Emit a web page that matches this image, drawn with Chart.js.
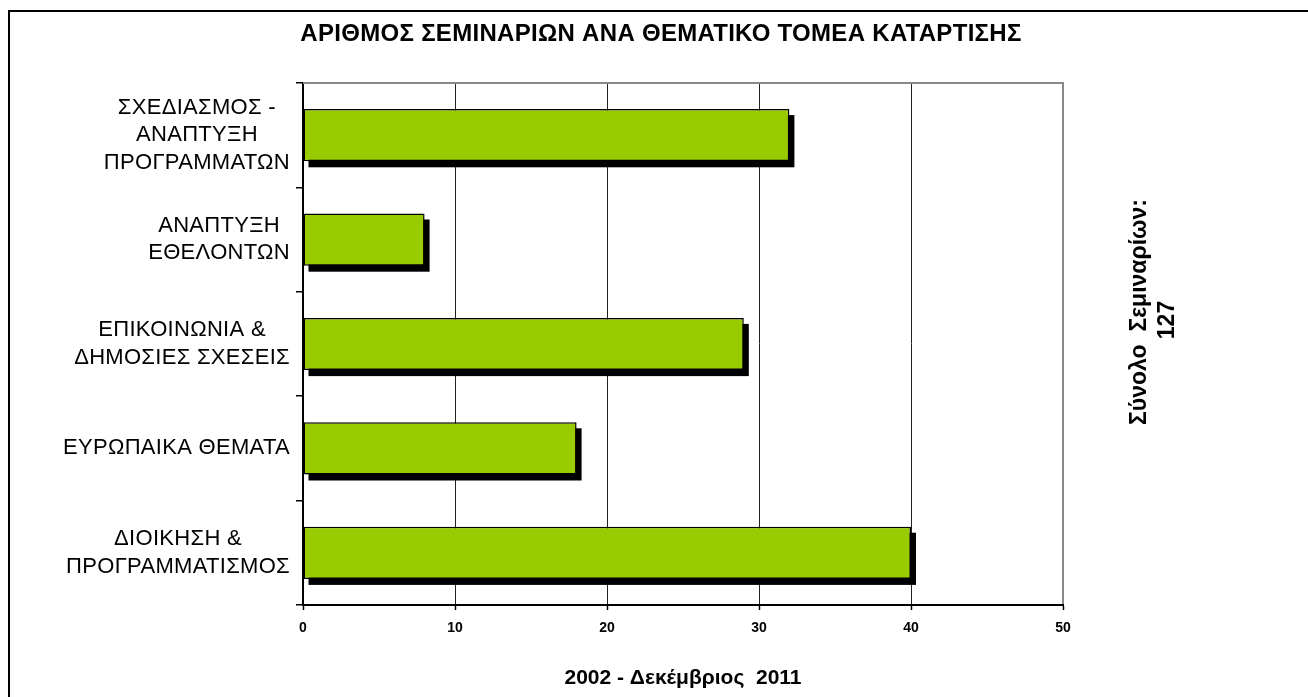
<!DOCTYPE html>
<html><head><meta charset="utf-8">
<script src="https://cdn.jsdelivr.net/npm/chart.js@4"></script>
<style>html,body{margin:0;padding:0;background:#fff}#wrap{width:1308px;height:697px;position:relative}</style>
</head><body><div id="wrap"><canvas id="c" width="1308" height="697"></canvas></div>
<script>
const categories = [
  ["ΣΧΕΔΙΑΣΜΟΣ -", "ΑΝΑΠΤΥΞΗ", "ΠΡΟΓΡΑΜΜΑΤΩΝ"],
  ["ΑΝΑΠΤΥΞΗ", "ΕΘΕΛΟΝΤΩΝ"],
  ["ΕΠΙΚΟΙΝΩΝΙΑ &", "ΔΗΜΟΣΙΕΣ ΣΧΕΣΕΙΣ"],
  ["ΕΥΡΩΠΑΙΚΑ ΘΕΜΑΤΑ"],
  ["ΔΙΟΙΚΗΣΗ &", "ΠΡΟΓΡΑΜΜΑΤΙΣΜΟΣ"]
];
const seminars = [32, 8, 29, 18, 40];
const xTickValues = [0, 10, 20, 30, 40, 50];
const titleText = "ΑΡΙΘΜΟΣ ΣΕΜΙΝΑΡΙΩΝ ΑΝΑ ΘΕΜΑΤΙΚΟ ΤΟΜΕΑ ΚΑΤΑΡΤΙΣΗΣ";
const xTitleText = "2002 - Δεκέμβριος  2011";
const sideText = ["Σύνολο  Σεμιναρίων:", "127"];

const FONT = '"Liberation Sans", Arial, sans-serif';

const decor = {
  id: 'decor',
  beforeDatasetsDraw(chart) {
    const ctx = chart.ctx;
    const meta = chart.getDatasetMeta(0);
    ctx.save();
    ctx.fillStyle = '#000';
    meta.data.forEach(el => {
      const p = el.getProps(['x', 'y', 'base', 'height'], true);
      const l = Math.min(p.base, p.x), r = Math.max(p.base, p.x);
      ctx.fillRect(l + 5, p.y - p.height / 2 + 6, r - l, p.height);
    });
    ctx.restore();
  },
  afterDraw(chart) {
    const ctx = chart.ctx;
    const a = chart.chartArea;
    const ys = chart.scales.y;
    ctx.save();
    // gray top/right plot border
    ctx.fillStyle = '#888';
    ctx.fillRect(a.left, a.top - 1, a.right - a.left + 1, 2);
    ctx.fillRect(a.right - 1, a.top - 1, 2, a.bottom - a.top);
    // outer frame
    ctx.fillStyle = '#000';
    ctx.fillRect(8, 10, 2, 697);
    ctx.fillRect(8, 10, 1308, 2);
    // title
    ctx.fillStyle = '#000';
    ctx.textAlign = 'center';
    ctx.textBaseline = 'middle';
    ctx.font = 'bold 24px ' + FONT;
    ctx.letterSpacing = '0.3px';
    ctx.fillText(titleText, 661, 34);
    // category labels
    ctx.font = '22px ' + FONT;
    ctx.letterSpacing = '0.3px';
    categories.forEach((lines, i) => {
      const yp = ys.getPixelForValue(i);
      const w = Math.max(...lines.map(s => ctx.measureText(s).width));
      const cx = 290 - w / 2;
      lines.forEach((s, j) => {
        ctx.fillText(s, cx, yp + (j - (lines.length - 1) / 2) * 27.5);
      });
    });
    // side text rotated
    ctx.translate(1154, 314);
    ctx.rotate(-Math.PI / 2);
    ctx.font = 'bold 23px ' + FONT;
    ctx.letterSpacing = '0px';
    ctx.fillText(sideText[0], 2, -14);
    ctx.fillText(sideText[1], -6, 14);
    ctx.restore();
  }
};

new Chart(document.getElementById('c'), {
  type: 'bar',
  data: {
    labels: categories,
    datasets: [{
      data: seminars,
      backgroundColor: '#99CC00',
      borderColor: '#000',
      borderWidth: 1.5,
      borderSkipped: false,
      categoryPercentage: 1,
      barPercentage: 0.5
    }]
  },
  options: {
    indexAxis: 'y',
    responsive: false,
    animation: false,
    devicePixelRatio: 1,
    layout: { padding: { left: 0, right: 245, top: 83, bottom: 0 } },
    plugins: { legend: { display: false }, tooltip: { enabled: false }, title: { display: false } },
    scales: {
      y: {
        ticks: { display: false },
        grid: { drawOnChartArea: false, drawTicks: true, tickLength: 7, color: '#000', lineWidth: 1.5 },
        border: { color: '#000', width: 2 },
        afterFit(s) { s.width = 303; }
      },
      x: {
        min: 0, max: 50,
        afterBuildTicks(s) { s.ticks = xTickValues.map(v => ({ value: v })); },
        ticks: { color: '#000', font: { family: FONT, size: 14, weight: 'bold' }, padding: 10 },
        grid: { color: '#222', lineWidth: 1, tickLength: 5, tickColor: '#000', tickWidth: 1.5 },
        border: { color: '#000', width: 2 },
        title: { display: true, text: xTitleText, color: '#000', font: { family: FONT, size: 21, weight: 'bold' }, padding: { top: 0, bottom: 6 } },
        afterFit(s) { s.height = 92; }
      }
    }
  },
  plugins: [decor]
});
</script>
</body></html>
